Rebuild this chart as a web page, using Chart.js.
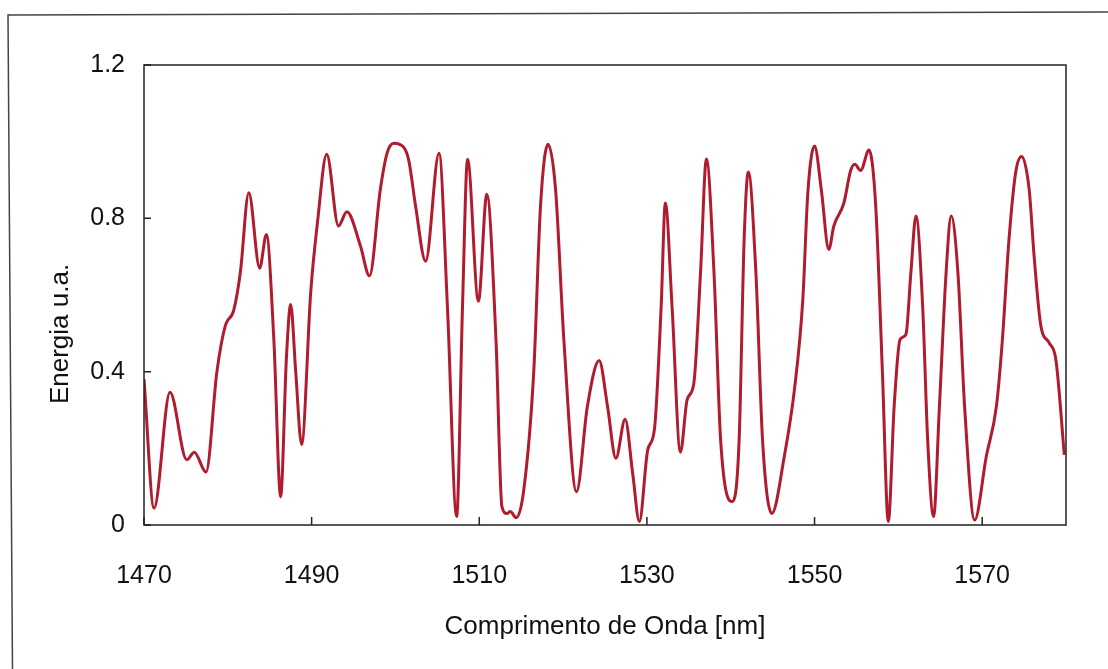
<!DOCTYPE html>
<html>
<head>
<meta charset="utf-8">
<script src="https://cdn.jsdelivr.net/npm/chart.js@4"></script>
<style>
  body { margin: 0; background: #fff; }
  #contenedor { width: 1108px; height: 669px; }
</style>
</head>
<body>
<div id="contenedor"><canvas id="grafico" width="1108" height="669"></canvas></div>
<script>
// Datos leídos a ojo del gráfico original (longitud de onda en nm y energía u.a.)
const longitudOnda = [
  1470.0, 1471.2, 1473.1, 1475.1, 1476.0, 1477.4, 1478.7, 1479.7, 1480.7, 1481.5,
  1482.5, 1483.8, 1484.6, 1485.5, 1486.3, 1487.0, 1487.5, 1488.1, 1488.8, 1489.9,
  1490.7, 1491.8, 1493.2, 1494.2, 1495.8, 1496.9, 1498.2, 1499.0, 1499.8, 1501.0,
  1501.6, 1502.4, 1503.6, 1505.2, 1506.2, 1507.3, 1508.0, 1508.6, 1509.9, 1510.9,
  1512.0, 1512.7, 1513.3, 1513.7, 1514.4, 1515.3, 1516.5, 1517.3, 1518.2, 1519.1,
  1520.1, 1521.6, 1522.9, 1524.3, 1525.3, 1526.3, 1527.4, 1528.3, 1529.1, 1530.1,
  1530.9, 1531.7, 1532.2, 1533.0, 1534.0, 1534.8, 1535.6, 1536.4, 1537.1, 1538.0,
  1538.8, 1540.2, 1541.0, 1541.6, 1542.1, 1543.0, 1543.8, 1544.9, 1546.4, 1547.6,
  1548.6, 1549.2, 1550.0, 1550.8, 1551.7, 1552.3, 1553.5, 1554.3, 1554.8, 1555.5,
  1556.5, 1557.3, 1558.1, 1558.8, 1559.5, 1560.2, 1560.9, 1561.5, 1562.1, 1562.9,
  1563.5, 1564.2, 1564.9, 1565.7, 1566.3, 1567.1, 1567.9, 1569.1, 1570.5, 1571.7,
  1572.4, 1573.2, 1574.0, 1574.7, 1575.6, 1576.2, 1577.0, 1578.0, 1578.8, 1579.8
];
const energia = [
  0.38, 0.044, 0.346, 0.17, 0.19, 0.138, 0.40, 0.52, 0.56, 0.66,
  0.867, 0.67, 0.758, 0.48, 0.074, 0.44, 0.575, 0.40, 0.21, 0.61,
  0.79, 0.967, 0.78, 0.817, 0.73, 0.65, 0.876, 0.97, 0.996, 0.985,
  0.95, 0.832, 0.688, 0.97, 0.57, 0.022, 0.57, 0.954, 0.584, 0.863,
  0.48, 0.048, 0.03, 0.035, 0.019, 0.09, 0.40, 0.83, 0.993, 0.876,
  0.48, 0.087, 0.31, 0.429, 0.31, 0.174, 0.276, 0.135, 0.009, 0.196,
  0.25, 0.57, 0.84, 0.57, 0.19, 0.327, 0.37, 0.66, 0.955, 0.66,
  0.22, 0.061, 0.22, 0.745, 0.921, 0.66, 0.22, 0.03, 0.18, 0.353,
  0.588, 0.867, 0.989, 0.876, 0.719, 0.78, 0.84, 0.924, 0.941, 0.925,
  0.978, 0.832, 0.397, 0.009, 0.31, 0.484, 0.497, 0.66, 0.806, 0.57,
  0.22, 0.022, 0.31, 0.66, 0.806, 0.66, 0.31, 0.013, 0.18, 0.31,
  0.48, 0.745, 0.92, 0.961, 0.876, 0.70, 0.52, 0.475, 0.43, 0.183
];

// Marcas de los ejes
const ticksX = [1470, 1490, 1510, 1530, 1550, 1570];
const ticksY = [0, 0.4, 0.8, 1.2];

const fuente = "'Liberation Sans', Arial, sans-serif";
const colorTexto = '#111';

// Plugin: fondo blanco, marco de la hoja escaneada, caja del gráfico,
// rayitas hacia adentro y el título del eje Y
const marcoPlugin = {
  id: 'marco',
  beforeDraw(chart) {
    const ctx = chart.ctx;
    ctx.save();
    ctx.fillStyle = '#fff';
    ctx.fillRect(0, 0, chart.width, chart.height);
    // marco de la hoja (arriba y a la izquierda)
    ctx.strokeStyle = '#444';
    ctx.lineWidth = 1.5;
    ctx.beginPath();
    ctx.moveTo(1108, 12);
    ctx.lineTo(8, 15);
    ctx.lineTo(12.5, 669);
    ctx.stroke();
    ctx.restore();
  },
  afterDraw(chart) {
    const ctx = chart.ctx;
    const a = chart.chartArea;
    const ejeX = chart.scales.x;
    const ejeY = chart.scales.y;
    ctx.save();
    ctx.strokeStyle = '#222';
    ctx.lineWidth = 1.5;
    ctx.strokeRect(a.left, a.top, a.right - a.left, a.bottom - a.top);
    ctx.beginPath();
    ticksX.forEach(v => {
      const px = ejeX.getPixelForValue(v);
      ctx.moveTo(px, a.bottom);
      ctx.lineTo(px, a.bottom - 8);
    });
    ticksY.forEach(v => {
      const py = ejeY.getPixelForValue(v);
      ctx.moveTo(a.left, py);
      ctx.lineTo(a.left + 7, py);
    });
    ctx.stroke();
    // título del eje Y (un poco más abajo del centro, como en el original)
    ctx.fillStyle = colorTexto;
    ctx.font = '26px ' + fuente;
    ctx.textAlign = 'center';
    ctx.textBaseline = 'middle';
    ctx.translate(61, 334);
    ctx.rotate(-Math.PI / 2);
    ctx.fillText('Energia u.a.', 0, 0);
    ctx.restore();
  }
};

const puntos = longitudOnda.map((x, i) => ({ x: x, y: energia[i] }));

new Chart(document.getElementById('grafico'), {
  type: 'line',
  data: {
    datasets: [{
      data: puntos,
      borderColor: '#b01c2e',
      borderWidth: 3,
      pointRadius: 0,
      fill: false,
      cubicInterpolationMode: 'monotone'
    }]
  },
  options: {
    responsive: false,
    animation: false,
    layout: { padding: { top: 65, right: 42, left: 0, bottom: 0 } },
    plugins: { legend: { display: false }, tooltip: { enabled: false } },
    scales: {
      x: {
        type: 'linear',
        min: 1470,
        max: 1580,
        afterBuildTicks: s => { s.ticks = ticksX.map(v => ({ value: v })); },
        afterFit: s => { s.height = 144; },
        grid: { display: false, drawTicks: false },
        border: { display: false },
        ticks: {
          padding: 36,
          maxRotation: 0,
          color: colorTexto,
          font: { family: fuente, size: 25 },
          callback: v => String(v)
        },
        title: {
          display: true,
          text: 'Comprimento de Onda [nm]',
          color: colorTexto,
          font: { family: fuente, size: 26 },
          padding: { top: 0, bottom: 27 }
        }
      },
      y: {
        type: 'linear',
        min: 0,
        max: 1.2,
        afterBuildTicks: s => { s.ticks = ticksY.map(v => ({ value: v })); },
        afterFit: s => { s.width = 144; },
        grid: { display: false, drawTicks: false },
        border: { display: false },
        ticks: {
          padding: 19,
          color: colorTexto,
          font: { family: fuente, size: 25 },
          callback: v => (v === 0 ? '0' : v.toFixed(1))
        }
      }
    }
  },
  plugins: [marcoPlugin]
});
</script>
</body>
</html>
